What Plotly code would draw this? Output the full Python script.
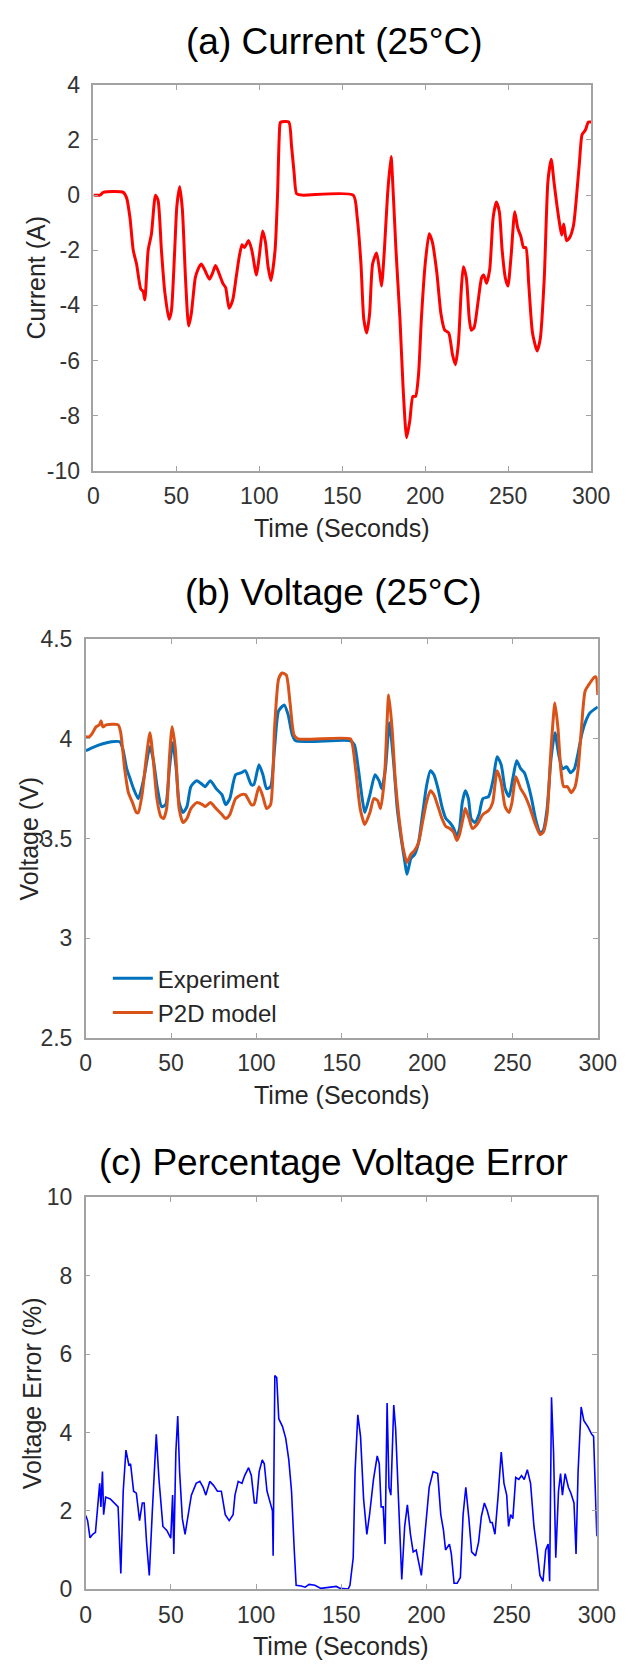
import plotly.graph_objects as go

W, H = 636, 1676

# ---------------- data ----------------
t_current = [0, 4, 6, 18, 20, 22, 24, 26, 28.5, 30, 31, 33, 35, 37.4, 39, 41, 43, 45.6, 47, 49, 50.3, 52,
             53.6, 55.5, 57.4, 59, 61.4, 63, 65, 67, 70, 72, 73.6, 75.5, 78, 79.7, 81.8, 84, 86, 88, 89.6,
             91, 93.6, 95.5, 98.3, 100, 102, 103.7, 105.3, 107, 109.5, 111, 112.5, 113, 117.8, 119.4, 121,
             122.5, 126, 156.6, 159, 161.3, 163, 164.8, 166.5, 168.3, 170.7, 172.6, 173.7, 175.4, 177.3,
             179.4, 180.8, 182.4, 184.8, 186.7, 188.8, 190.7, 192.6, 194.2, 196, 197.7, 200, 202.4, 204.3,
             207, 209.5, 211.8, 214.2, 216.5, 218.2, 220, 221.7, 223, 224.8, 226.6, 227.8, 229.5, 231.8,
             234, 235.3, 237, 238.9, 241, 242.9, 244.7, 246.4, 248.3, 249.9, 251.8, 254, 255.8, 257.7,
             259.3, 260.7, 262.4, 264.7, 267.5, 269.4, 271.8, 274, 276, 277.6, 279.5, 281.2, 282.3, 283.5,
             285.2, 287, 289.4, 291.3, 293, 294.6, 296.5, 298.4, 300]
current = [0, 0, 0.1, 0.1, -0.1, -0.8, -2.0, -2.5, -3.4, -3.5, -3.8, -2.0, -1.4, 0, -0.2, -2.0, -3.5, -4.5,
           -4.2, -2.0, -0.4, 0.3, -0.5, -3.0, -4.75, -4.3, -3.0, -2.7, -2.5, -2.7, -3.05, -2.8, -2.55, -2.8,
           -3.2, -3.35, -4.1, -3.8, -3.0, -2.2, -1.8, -1.9, -1.65, -2.0, -2.9, -2.2, -1.3, -1.7, -2.6, -3.1,
           -2.0, 0, 2.6, 2.65, 2.65, 1.8, 0.8, 0.05, 0, 0, -0.8, -2.5, -4.5, -5.0, -4.3, -2.5, -2.1, -2.8,
           -3.3, -2.0, 0, 1.4, 0, -2.0, -4.5, -7.0, -8.8, -8.2, -7.3, -7.3, -6.5, -4.5, -2.5, -1.4, -1.7,
           -2.8, -4.3, -4.9, -5.0, -5.8, -6.15, -5.4, -3.5, -2.6, -3.0, -4.5, -4.9, -4.8, -3.9, -3.0, -2.9,
           -3.2, -2.7, -0.8, -0.25, -0.6, -2.0, -3.0, -3.3, -2.2, -0.6, -1.2, -1.5, -1.9, -1.9, -3.2, -5.0,
           -5.65, -5.2, -3.0, 0.5, 1.3, 0.5, -0.4, -1.1, -1.45, -1.05, -1.65, -1.55, -1.1, 0, 1.2, 2.2,
           2.35, 2.65, 2.65]

t_exp = [0, 5, 10, 15, 20, 21.7, 24, 26, 28, 30.8, 34, 37.6, 39.5, 42, 44.5, 46.8, 49, 51, 53, 54.7, 57,
         59.3, 61.6, 65, 68.4, 70, 73, 76.4, 79.8, 82, 84.4, 87.8, 91.2, 93.5, 97, 98.5, 101.5, 103.8, 106,
         108.3, 110.6, 113, 116.3, 118.6, 121, 123, 155, 157.4, 159.7, 162, 163.5, 166.5, 169.5, 171.8,
         173.4, 175.6, 177.9, 180.2, 182.5, 184.8, 187, 188.2, 190.5, 192.7, 195, 197.3, 199.6, 201.9, 204,
         206.4, 208.7, 211, 213.3, 215.6, 217.4, 219, 220.6, 222.4, 224.2, 225.8, 228, 230.4, 232.7, 236,
         238.8, 241, 243.4, 245.7, 248, 250.2, 252.5, 254.8, 257, 258.9, 261.2, 263.5, 266.2, 268, 270.3,
         272.6, 274.9, 277.1, 279.4, 281.7, 284, 286.3, 288.5, 290.8, 293, 295.4, 300]
v_exp = [3.94, 3.96, 3.975, 3.985, 3.985, 3.95, 3.85, 3.80, 3.75, 3.70, 3.80, 3.96, 3.90, 3.75, 3.66, 3.67,
         3.85, 3.98, 3.85, 3.68, 3.63, 3.66, 3.76, 3.79, 3.77, 3.76, 3.79, 3.75, 3.72, 3.67, 3.70, 3.82,
         3.83, 3.84, 3.77, 3.77, 3.87, 3.82, 3.75, 3.76, 3.95, 4.14, 4.17, 4.12, 4.02, 3.99, 3.99, 3.97,
         3.85, 3.70, 3.63, 3.72, 3.82, 3.79, 3.75, 3.85, 4.08, 3.90, 3.65, 3.50, 3.38, 3.32, 3.40, 3.42,
         3.48, 3.62, 3.76, 3.84, 3.82, 3.75, 3.66, 3.60, 3.58, 3.55, 3.51, 3.55, 3.68, 3.74, 3.70, 3.60,
         3.58, 3.62, 3.70, 3.71, 3.80, 3.91, 3.87, 3.75, 3.71, 3.80, 3.89, 3.85, 3.83, 3.78, 3.70, 3.60,
         3.53, 3.54, 3.65, 3.90, 4.03, 3.92, 3.85, 3.86, 3.83, 3.85, 3.93, 4.03, 4.09, 4.13, 4.16]

t_p2d = [0, 2, 4, 6, 8, 9, 10, 12, 19, 20.5, 22.8, 25, 27.4, 29.7, 30.8, 33, 35.4, 37.6, 39.5, 41.7, 44,
         45.6, 47.4, 49, 50.6, 52.5, 54.7, 57, 59.3, 61.6, 65, 68.4, 70, 73, 76.4, 79.8, 82, 84.4, 87.8,
         91.2, 93.5, 97, 98.5, 101.5, 103.8, 106, 108.3, 110.6, 113, 115, 117.5, 119.7, 122, 124.3, 155,
         156.3, 158.5, 160.8, 163.5, 166.5, 168.8, 171, 172.7, 175, 177.5, 179.5, 181.3, 183.6, 186, 188.2,
         190.5, 192.7, 195, 197.3, 199.6, 201.9, 204, 206.4, 208.7, 211, 213.3, 215.6, 217.4, 219, 221.5,
         222.4, 224.6, 226.5, 229.2, 232.7, 236, 238.4, 241, 243.4, 245.7, 248, 249.7, 252, 254.8, 257,
         260, 263.5, 266.2, 268, 270.3, 272.6, 274.9, 276.7, 278.3, 280, 282.2, 284.5, 286.7, 288.5,
         290.4, 292.6, 295.4, 298.1, 299, 300]
v_p2d = [4.01, 4.01, 4.03, 4.06, 4.07, 4.09, 4.06, 4.07, 4.07, 4.03, 3.85, 3.73, 3.68, 3.63, 3.63, 3.72,
         3.90, 4.03, 3.90, 3.70, 3.61, 3.60, 3.65, 3.90, 4.06, 3.95, 3.65, 3.58, 3.60, 3.65, 3.68, 3.67,
         3.66, 3.68, 3.65, 3.62, 3.60, 3.62, 3.70, 3.72, 3.72, 3.67, 3.67, 3.76, 3.71, 3.65, 3.67, 4.05,
         4.30, 4.33, 4.32, 4.18, 4.02, 4.0, 4.0, 3.97, 3.82, 3.65, 3.57, 3.63, 3.70, 3.69, 3.65, 3.80,
         4.22, 4.05, 3.80, 3.60, 3.45, 3.38, 3.42, 3.44, 3.48, 3.58, 3.68, 3.74, 3.72, 3.66, 3.60, 3.56,
         3.55, 3.53, 3.49, 3.52, 3.62, 3.65, 3.60, 3.55, 3.57, 3.62, 3.64, 3.68, 3.84, 3.78, 3.66, 3.63,
         3.68, 3.81, 3.75, 3.72, 3.66, 3.57, 3.52, 3.53, 3.62, 3.95, 4.18, 4.05, 3.85, 3.76, 3.76, 3.73,
         3.76, 3.85, 4.05, 4.24, 4.28, 4.31, 4.31, 4.22]

t_err = [0, 1.1, 2.5, 4.1, 5.7, 7.5, 8.2, 8.9, 9.8, 10.5, 11.7, 14.4, 19, 20.6, 22, 23.6, 25.4, 26.3, 28.1,
         29.7, 31.6, 33.2, 34.3, 35.7, 37.3, 39.1, 41.4, 43, 45.3, 47.6, 49.9, 51, 51.7, 52.9, 54, 55.1,
         56.7, 58.3, 60.2, 62, 64.8, 67, 68.9, 70.5, 72.8, 75, 77.3, 79.6, 81.9, 84.2, 86.5, 87.6, 89.5,
         91.7, 93.3, 95.6, 97.2, 99, 100.2, 101.8, 103.6, 104.8, 106.4, 108.2, 109.6, 110, 111, 112.1,
         113.3, 115.5, 117.4, 119.2, 120.8, 122.4, 123.5, 126.5, 128.8, 131.1, 134.5, 138, 142.5, 147.1,
         149.4, 154, 155.1, 157, 158.1, 159.7, 161.3, 163.1, 165, 166.6, 168.9, 171.1, 172.3, 173.4, 174.6,
         175.7, 176.9, 178, 179.1, 180.8, 181.9, 183.7, 185.5, 187.2, 188.8, 190.6, 192.2, 194, 195.2, 197,
         199.3, 201.6, 203.9, 206.6, 208.4, 210, 211.2, 213.5, 214.6, 216.2, 218, 219.9, 221.5, 223.1,
         224.9, 226.5, 228.8, 230.6, 232.2, 234, 235.7, 237.5, 238.6, 240.2, 242.1, 243.9, 245.5, 247.1,
         248.2, 249.4, 250.7, 252.4, 254.2, 255.8, 257.4, 259.2, 261.1, 263.1, 264.9, 266.6, 268.4, 270,
         271.4, 272.3, 273.4, 274.6, 275.9, 277.5, 278.7, 279.8, 281.4, 283.3, 284.8, 286.6, 287.8, 289,
         290.8, 292.4, 294.7, 297, 298.1, 300]
err = [1.88, 1.75, 1.31, 1.4, 1.45, 2.5, 2.7, 2.1, 3.0, 1.9, 2.35, 2.3, 2.1, 0.4, 2.5, 3.55, 3.15, 3.2,
       2.5, 2.45, 1.75, 2.2, 2.2, 1.2, 0.35, 2.0, 3.95, 2.8, 1.6, 1.5, 1.3, 2.4, 0.9, 3.5, 4.42, 3.0,
       1.8, 1.4, 1.9, 2.4, 2.7, 2.75, 2.6, 2.4, 2.75, 2.65, 2.5, 2.5, 1.9, 1.75, 1.9, 2.4, 2.75, 2.7,
       2.9, 3.1, 2.9, 2.2, 2.2, 3.0, 3.3, 3.2, 2.5, 2.2, 2.0, 0.85, 5.45, 5.4, 4.35, 4.15, 3.85, 3.3,
       2.5, 1.0, 0.1, 0.08, 0.05, 0.12, 0.1, 0.02, 0.04, 0.07, 0.02, 0.0, 0.1, 0.8, 3.0, 4.45, 3.9,
       2.3, 1.4, 1.9, 2.8, 3.4, 3.2, 2.1, 2.1, 1.15, 4.75, 2.6, 2.4, 4.7, 4.1, 2.2, 0.25, 1.6, 2.15,
       1.4, 0.95, 1.0, 0.7, 0.35, 1.5, 2.6, 3.0, 2.95, 1.9, 1.5, 1.0, 1.15, 0.9, 0.15, 0.15, 0.3, 1.9,
       2.6, 1.8, 0.95, 0.85, 1.2, 1.85, 2.2, 2.0, 1.7, 1.7, 1.4, 2.4, 3.5, 2.7, 2.4, 1.6, 1.9, 1.8,
       2.85, 2.8, 2.9, 2.8, 3.05, 2.7, 1.6, 1.0, 0.35, 0.2, 1.0, 1.15, 0.2, 4.9, 3.5, 0.8, 2.5, 2.95,
       2.4, 2.95, 2.6, 2.45, 2.2, 0.9, 3.0, 4.65, 4.3, 4.15, 3.95, 3.9, 1.35]

x_ticks = [0, 50, 100, 150, 200, 250, 300]
x_ticktext = ["0", "50", "100", "150", "200", "250", "300"]
ya_ticks = [-10, -8, -6, -4, -2, 0, 2, 4]
ya_ticktext = ["-10", "-8", "-6", "-4", "-2", "0", "2", "4"]
yb_ticks = [2.5, 3, 3.5, 4, 4.5]
yb_ticktext = ["2.5", "3", "3.5", "4", "4.5"]
yc_ticks = [0, 2, 4, 6, 8, 10]
yc_ticktext = ["0", "2", "4", "6", "8", "10"]

titles = ["(a) Current (25°C)", "(b) Voltage (25°C)", "(c) Percentage Voltage Error"]
ylabels = ["Current (A)", "Voltage (V)", "Voltage Error (%)"]
xlabel = "Time (Seconds)"

# ---------------- layout geometry (pixels) ----------------
FONT = "Liberation Sans, Arial, sans-serif"
TICKC = "#333333"
AXC = "#a3a3a3"

panels = [  # left, right, top, bottom
    (91, 609, 73, 465),
    (83, 616, 636, 1041),
    (83, 615, 1203, 1601),
]


def px_x(v):
    return v / W


def px_y(v):
    return 1 - v / H


fig = go.Figure()

fig.add_trace(go.Scatter(x=t_current, y=current, mode="lines", showlegend=False,
                         line=dict(color="#ff0000", width=3, shape="spline", smoothing=0.6),
                         xaxis="x", yaxis="y"))
fig.add_trace(go.Scatter(x=t_exp, y=v_exp, mode="lines", name="Experiment",
                         line=dict(color="#0072BD", width=3, shape="spline", smoothing=0.6),
                         xaxis="x2", yaxis="y2"))
fig.add_trace(go.Scatter(x=t_p2d, y=v_p2d, mode="lines", name="P2D model",
                         line=dict(color="#D95319", width=3, shape="spline", smoothing=0.6),
                         xaxis="x2", yaxis="y2"))
fig.add_trace(go.Scatter(x=t_err, y=err, mode="lines", showlegend=False,
                         line=dict(color="#0000ff", width=1.6),
                         xaxis="x3", yaxis="y3"))

yspecs = [([-10, 4], ya_ticks, ya_ticktext), ([2.5, 4.5], yb_ticks, yb_ticktext),
          ([0, 10], yc_ticks, yc_ticktext)]

common = dict(showline=True, linecolor=AXC, linewidth=1.5, mirror="ticks", ticks="inside",
              ticklen=5, tickcolor=AXC, tickwidth=1, showgrid=False, zeroline=False,
              tickfont=dict(family=FONT, size=23, color=TICKC))

layout = dict(width=W, height=H, margin=dict(l=0, r=0, t=0, b=0),
              paper_bgcolor="white", plot_bgcolor="white",
              font=dict(family=FONT),
              legend=dict(x=px_x(106), y=px_y(958), xanchor="left", yanchor="top",
                          bgcolor="rgba(0,0,0,0)", font=dict(family=FONT, size=24, color="#262626"),
                          tracegroupgap=0, itemwidth=40))

annotations = []
for i, (l, r, t, b) in enumerate(panels):
    sx = "" if i == 0 else str(i + 1)
    yr, yt, ytt = yspecs[i]
    layout["xaxis" + sx] = dict(domain=[px_x(l), px_x(r)], range=[0, 300], anchor="y" + sx,
                                tickvals=x_ticks, ticktext=x_ticktext, ticklabelstandoff=4, **common)
    layout["yaxis" + sx] = dict(domain=[px_y(b), px_y(t)], range=yr, anchor="x" + sx,
                                tickvals=yt, ticktext=ytt, ticklabelstandoff=7, **common)
    cx = (l + r) / 2
    title_y = [29, 589, 1168][i]
    annotations.append(dict(text=titles[i], x=px_x(341), y=px_y(title_y), xref="paper", yref="paper",
                            showarrow=False, xanchor="center", yanchor="middle",
                            font=dict(family=FONT, size=37, color="#000000")))
    annotations.append(dict(text=xlabel, x=px_x(cx), y=px_y(b + 58), xref="paper", yref="paper",
                            showarrow=False, xanchor="center", yanchor="middle",
                            font=dict(family=FONT, size=25, color="#262626")))
    ylab_x = [31, 24, 27][i]
    annotations.append(dict(text=ylabels[i], x=px_x(ylab_x), y=px_y((t + b) / 2), xref="paper",
                            yref="paper", showarrow=False, xanchor="center", yanchor="middle",
                            textangle=-90, font=dict(family=FONT, size=25, color="#262626")))

layout["annotations"] = annotations
fig.update_layout(**layout)

fig.write_html("out.html")
